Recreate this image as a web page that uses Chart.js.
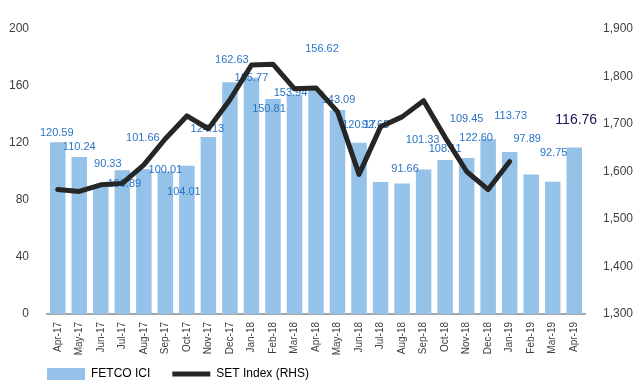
<!DOCTYPE html>
<html>
<head>
<meta charset="utf-8">
<script src="https://cdn.jsdelivr.net/npm/chart.js@4"></script>
<style>
  html, body { margin: 0; padding: 0; background: #fff; }
  #wrap { width: 644px; height: 387px; }
</style>
</head>
<body>
<div id="wrap"><canvas id="grafico"></canvas></div>
<script>
// dati
const mesi = ['Apr-17','May-17','Jun-17','Jul-17','Aug-17','Sep-17','Oct-17','Nov-17','Dec-17',
  'Jan-18','Feb-18','Mar-18','Apr-18','May-18','Jun-18','Jul-18','Aug-18','Sep-18','Oct-18',
  'Nov-18','Dec-18','Jan-19','Feb-19','Mar-19','Apr-19'];
const fetcoICI = [120.59, 110.24, 90.33, 100.89, 101.66, 100.01, 104.01, 124.13, 162.63,
  165.77, 150.81, 153.94, 156.62, 143.09, 120.17, 92.65, 91.66, 101.33, 108.11,
  109.45, 122.60, 113.73, 97.89, 92.75, 116.76];
const setIndex = [1562, 1558, 1572, 1575, 1614, 1669, 1717, 1690, 1751,
  1824, 1826, 1774, 1776, 1726, 1594, 1694, 1715, 1749, 1672,
  1600, 1562, 1621, null, null, null];
const tickSinistra = [0, 40, 80, 120, 160, 200];
const tickDestra = [1300, 1400, 1500, 1600, 1700, 1800, 1900];

// spostamento delle etichette rispetto alla cima della barra (come nell'originale)
const spostaEtichette = [[-1,-9],[0,-10],[7,-21],[2,14],[-1,-31],[0,-2],[-3,26],[-1,-8],[2,-22],
  [0,0],[-4,10],[-4,-2],[6,-42],[1,-10],[0,-18],[-5,-57],[3,-14],[-1,-30],[0,-11],
  [0,-39],[-12,-1],[1,-36],[-4,-36],[1,-29],[2,-27]];

const coloreBarre = '#95c2e8';
const coloreLinea = '#262626';
const testo = '#404040';
const font = "'Liberation Sans', Arial, sans-serif";

// etichette delle barre, disegnate prima della linea
const EtichettePlugin = {
  id: 'etichette',
  afterDatasetDraw: (chart, args) => {
    if (args.index !== 0) return;
    const ctx = chart.ctx;
    ctx.save();
    ctx.textAlign = 'center';
    ctx.textBaseline = 'middle';
    args.meta.data.forEach((bar, i) => {
      const ultimo = i === fetcoICI.length - 1;
      ctx.font = (ultimo ? '14px ' : '11px ') + font;
      ctx.fillStyle = ultimo ? '#15155a' : '#2a74c6';
      const s = spostaEtichette[i];
      ctx.fillText(fetcoICI[i].toFixed(2), bar.x + s[0], bar.y + s[1]);
    });
    ctx.restore();
  }
};

// sposta la legenda sotto l'asse
const LegendaPlugin = {
  id: 'spostaLegenda',
  afterLayout: (chart) => {
    chart.legend.left = 25;
    chart.legend.top -= 10;
  }
};

let ctx = document.getElementById('grafico').getContext('2d');

new Chart(ctx, {
  type: 'bar',
  data: {
    labels: mesi,
    datasets: [{
      type: 'bar',
      label: 'FETCO ICI',
      data: fetcoICI,
      backgroundColor: coloreBarre,
      borderWidth: 0,
      barPercentage: 0.72,
      categoryPercentage: 1,
      yAxisID: 'y',
      order: 1
    }, {
      type: 'line',
      label: 'SET Index (RHS)',
      data: setIndex,
      borderColor: coloreLinea,
      borderWidth: 5,
      pointRadius: 0,
      tension: 0,
      borderCapStyle: 'round',
      borderJoinStyle: 'round',
      spanGaps: false,
      yAxisID: 'y1',
      order: 0
    }]
  },
  options: {
    responsive: true,
    maintainAspectRatio: false,
    animation: false,
    layout: { padding: { top: 29, left: 0, right: 0, bottom: -13 } },
    plugins: {
      tooltip: { enabled: false },
      legend: {
        position: 'bottom',
        align: 'start',
        labels: {
          usePointStyle: true,
          pointStyleWidth: 38,
          boxHeight: 12,
          padding: 22,
          color: '#333',
          font: { family: font, size: 12 },
          generateLabels: () => [
            { text: 'FETCO ICI', fillStyle: coloreBarre, strokeStyle: coloreBarre, lineWidth: 0, pointStyle: 'rect', datasetIndex: 0 },
            { text: 'SET Index (RHS)', fillStyle: coloreLinea, strokeStyle: coloreLinea, lineWidth: 5, pointStyle: 'line', datasetIndex: 1 }
          ]
        }
      }
    },
    scales: {
      x: {
        grid: { display: false, drawTicks: false },
        border: { display: true, color: '#a6a6a6', width: 2 },
        ticks: {
          color: testo,
          font: { family: font, size: 10 },
          minRotation: 90,
          maxRotation: 90,
          autoSkip: false,
          padding: 8
        },
        afterFit: (scale) => { scale.height = 42; }
      },
      y: {
        position: 'left',
        min: 0,
        max: 200,
        grid: { display: false, drawTicks: false },
        border: { display: false },
        afterBuildTicks: (scale) => { scale.ticks = tickSinistra.map(v => ({ value: v })); },
        ticks: { color: testo, font: { family: font, size: 12 }, padding: 18 },
        afterFit: (scale) => { scale.width = 47; }
      },
      y1: {
        position: 'right',
        min: 1300,
        max: 1900,
        grid: { display: false, drawTicks: false },
        border: { display: false },
        afterBuildTicks: (scale) => { scale.ticks = tickDestra.map(v => ({ value: v })); },
        ticks: {
          color: testo,
          font: { family: font, size: 12 },
          padding: 18,
          callback: (v) => v.toLocaleString('en-US')
        },
        afterFit: (scale) => { scale.width = 59; }
      }
    }
  },
  plugins: [EtichettePlugin, LegendaPlugin]
});
</script>
</body>
</html>
